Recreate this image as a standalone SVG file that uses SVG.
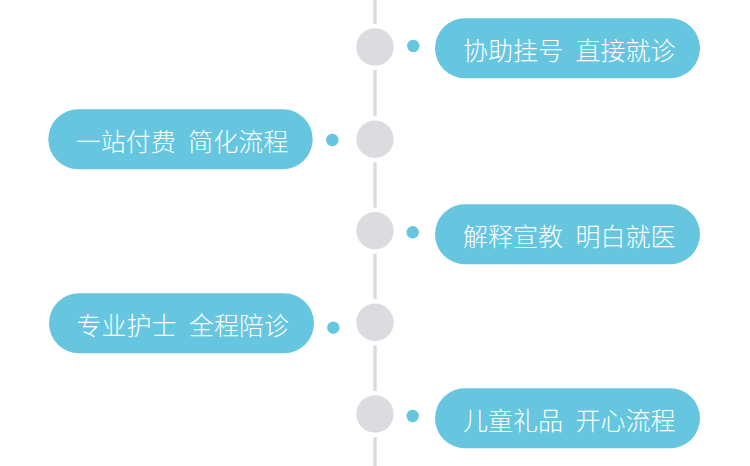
<svg xmlns="http://www.w3.org/2000/svg" width="750" height="466" viewBox="0 0 750 466">
<style>
.seg{stroke:#dcdbe0;stroke-width:3.4;fill:none}
.hub{fill:#dcdbe0}
.dot{fill:#66c6df}
.pill{fill:#66c6df}
.lbl{fill:#ffffff;font-family:"Noto Sans CJK SC Light","Noto Sans CJK SC","Noto Sans",sans-serif;font-size:25px;font-weight:300;text-anchor:middle;dominant-baseline:central}
</style>
<rect width="750" height="466" fill="#ffffff"/>
<g id="connectors">
<line class="seg" x1="375" y1="0" x2="375" y2="24"/>
<line class="seg" x1="375" y1="70" x2="375" y2="116.3"/>
<line class="seg" x1="375" y1="162.3" x2="375" y2="207.7"/>
<line class="seg" x1="375" y1="253.7" x2="375" y2="299.3"/>
<line class="seg" x1="375" y1="345.3" x2="375" y2="391"/>
<line class="seg" x1="375" y1="437" x2="375" y2="466"/>
</g>
<g id="node1">
<circle class="hub" cx="375" cy="47" r="18.7"/>
<circle class="dot" cx="413.3" cy="46" r="6.2"/>
<rect class="pill" x="435" y="18.3" width="265" height="60" rx="30"/>
<text class="lbl" x="569.2" y="49.3">协助挂号<tspan dx="7"> </tspan>直接就诊</text>
</g>
<g id="node2">
<circle class="hub" cx="375" cy="139.3" r="18.7"/>
<circle class="dot" cx="332.3" cy="140" r="6.2"/>
<rect class="pill" x="48.3" y="109.3" width="264.4" height="60" rx="30"/>
<text class="lbl" x="182" y="140.3">一站付费<tspan dx="7"> </tspan>简化流程</text>
</g>
<g id="node3">
<circle class="hub" cx="375" cy="230.7" r="18.7"/>
<circle class="dot" cx="412.7" cy="232.3" r="6.2"/>
<rect class="pill" x="435" y="204.3" width="265" height="60" rx="30"/>
<text class="lbl" x="569.2" y="235.3">解释宣教<tspan dx="7"> </tspan>明白就医</text>
</g>
<g id="node4">
<circle class="hub" cx="375" cy="322.3" r="18.7"/>
<circle class="dot" cx="333.3" cy="327.7" r="6.2"/>
<rect class="pill" x="49" y="293.3" width="265" height="60" rx="30"/>
<text class="lbl" x="182.8" y="324.3">专业护士<tspan dx="7"> </tspan>全程陪诊</text>
</g>
<g id="node5">
<circle class="hub" cx="375" cy="414" r="18.7"/>
<circle class="dot" cx="412.7" cy="416" r="6.2"/>
<rect class="pill" x="435" y="388.3" width="265" height="60" rx="30"/>
<text class="lbl" x="569.2" y="419.3">儿童礼品<tspan dx="7"> </tspan>开心流程</text>
</g>
</svg>
